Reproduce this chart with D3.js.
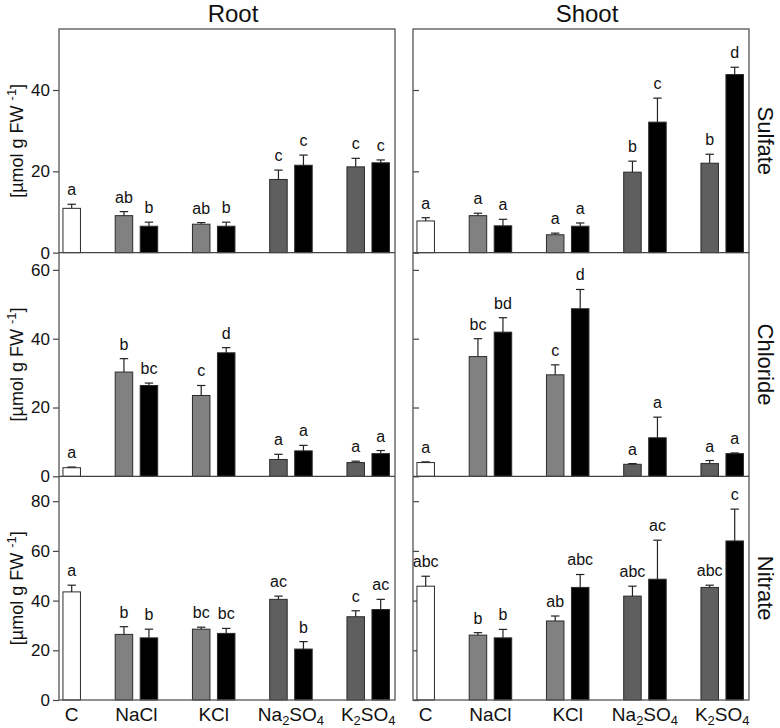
<!DOCTYPE html>
<html><head><meta charset="utf-8">
<script src="https://cdn.jsdelivr.net/npm/d3@7"></script>
<style>body{margin:0;background:#fff} text{font-family:"Liberation Sans",Arial,sans-serif;fill:#111}</style>
</head><body><svg id="c" width="780" height="728"></svg>
<script>
// ---------- data ----------
const categories = ["C", "NaCl", "KCl", "Na2SO4", "K2SO4"];
const tissues = ["Root", "Shoot"];
const ions = ["Sulfate", "Chloride", "Nitrate"];
const sulfateTicks = [0, 20, 40];
const chlorideTicks = [0, 20, 40, 60];
const nitrateTicks = [0, 20, 40, 60, 80];
const yMaxima = [55, 65, 90];
// bar order: C, NaCl low, NaCl high, KCl low, KCl high, Na2SO4 low, Na2SO4 high, K2SO4 low, K2SO4 high
const rootSulfateMean = [10.9, 9.1, 6.5, 7.0, 6.5, 18.0, 21.5, 21.1, 22.1];
const rootSulfateErr = [1.0, 1.0, 1.0, 0.4, 1.0, 2.3, 2.5, 2.1, 0.7];
const rootSulfateLetters = ["a", "ab", "b", "ab", "b", "c", "c", "c", "c"];
const shootSulfateMean = [7.8, 9.1, 6.6, 4.4, 6.5, 19.8, 32.1, 22.0, 43.8];
const shootSulfateErr = [0.8, 0.6, 1.6, 0.4, 0.8, 2.7, 5.9, 2.2, 1.8];
const shootSulfateLetters = ["a", "a", "a", "a", "a", "b", "c", "b", "d"];
const rootChlorideMean = [2.5, 30.3, 26.4, 23.5, 35.9, 4.9, 7.4, 4.0, 6.6];
const rootChlorideErr = [0.2, 3.9, 0.7, 2.9, 1.5, 1.5, 1.6, 0.4, 0.9];
const rootChlorideLetters = ["a", "b", "bc", "c", "d", "a", "a", "a", "a"];
const shootChlorideMean = [4.0, 34.8, 41.9, 29.5, 48.7, 3.5, 11.2, 3.7, 6.6];
const shootChlorideErr = [0.2, 5.2, 4.2, 2.9, 5.6, 0.2, 6.0, 0.9, 0.2];
const shootChlorideLetters = ["a", "bc", "bd", "c", "d", "a", "a", "a", "a"];
const rootNitrateMean = [43.5, 26.4, 25.0, 28.5, 26.8, 40.5, 20.5, 33.5, 36.4];
const rootNitrateErr = [2.7, 3.1, 3.5, 0.8, 2.0, 1.3, 3.0, 2.4, 4.1];
const rootNitrateLetters = ["a", "b", "b", "bc", "bc", "ac", "b", "c", "ac"];
const shootNitrateMean = [45.8, 26.1, 25.0, 31.8, 45.3, 41.8, 48.6, 45.3, 64.0];
const shootNitrateErr = [4.0, 1.0, 3.4, 2.0, 5.2, 4.0, 15.7, 0.9, 12.8];
const shootNitrateLetters = ["abc", "b", "b", "ab", "abc", "abc", "ac", "abc", "c"];

const panels = [
  [rootSulfateMean, rootSulfateErr, rootSulfateLetters, shootSulfateMean, shootSulfateErr, shootSulfateLetters],
  [rootChlorideMean, rootChlorideErr, rootChlorideLetters, shootChlorideMean, shootChlorideErr, shootChlorideLetters],
  [rootNitrateMean, rootNitrateErr, rootNitrateLetters, shootNitrateMean, shootNitrateErr, shootNitrateLetters]
];
const tickSets = [sulfateTicks, chlorideTicks, nitrateTicks];

// bar slots built from categories
const bars = [];
categories.forEach(c => {
  if (c === "C") bars.push({cat: c, sub: "high", fill: "#ffffff"});
  else {
    const light = (c === "NaCl" || c === "KCl") ? "#818181" : "#5f5f5f";
    bars.push({cat: c, sub: "low", fill: light});
    bars.push({cat: c, sub: "high", fill: "#000000"});
  }
});

// ---------- layout ----------
const svg = d3.select("#c");
const colLeft = [59, 413], colW = 336;
const top0 = 29, bottom0 = 700;
const rowH = (bottom0 - top0) / 3;
const font = '"Liberation Sans",Arial,sans-serif';

const xGroup = d3.scalePoint().domain(categories).range([0.2, 309.2]);
const xSub = d3.scaleBand().domain(["low", "high"]).range([-25, 25]).paddingInner(0.3).paddingOuter(0.15);

tissues.forEach((t, ci) => {
  const L = colLeft[ci];
  ions.forEach((ion, ri) => {
    const yTop = top0 + ri * rowH, yBot = yTop + rowH;
    const y = d3.scaleLinear().domain([0, yMaxima[ri]]).range([yBot, yTop]);
    const [mean, err, letters] = panels[ri].slice(ci * 3, ci * 3 + 3);
    const g = svg.append("g").attr("transform", `translate(${L},0)`);

    // axis
    const ax = ci === 0
      ? d3.axisLeft(y).tickValues(tickSets[ri]).tickSize(6).tickPadding(3)
      : d3.axisRight(y).tickValues(tickSets[ri]).tickSize(6).tickFormat(() => "");
    const ag = g.append("g").call(ax);
    ag.select(".domain").remove();
    ag.selectAll("line").attr("stroke", "#444").attr("stroke-width", 1.2);
    ag.selectAll("text").attr("font-size", 17).attr("font-family", font).attr("fill", "#111");

    // bars
    bars.forEach((b, i) => {
      const x0 = xGroup(b.cat) + xSub(b.sub);
      const w = xSub.bandwidth();
      const cx = x0 + w / 2;
      g.append("rect").attr("x", x0).attr("y", y(mean[i])).attr("width", w)
        .attr("height", y(0) - y(mean[i])).attr("fill", b.fill)
        .attr("stroke", "#2b2b2b").attr("stroke-width", 1);
      const ye = y(mean[i] + err[i]);
      g.append("line").attr("x1", cx).attr("x2", cx).attr("y1", y(mean[i])).attr("y2", ye)
        .attr("stroke", "#222").attr("stroke-width", 1.2);
      g.append("line").attr("x1", cx - 4.2).attr("x2", cx + 4.2).attr("y1", ye).attr("y2", ye)
        .attr("stroke", "#222").attr("stroke-width", 1.2);
      g.append("text").attr("x", cx).attr("y", ye - 9).attr("text-anchor", "middle")
        .attr("font-size", 16).text(letters[i]);
    });

    if (ci === 0) {
      const lab = svg.append("text").attr("transform", `translate(23,${(yTop + yBot) / 2}) rotate(-90)`)
        .attr("text-anchor", "middle").attr("font-size", 18);
      lab.append("tspan").text("[µmol g FW  ");
      lab.append("tspan").attr("font-size", 13).attr("dy", -7).text("-1");
      lab.append("tspan").attr("dy", 7).text("]");
    } else {
      svg.append("text").attr("transform", `translate(758,${(yTop + yBot) / 2}) rotate(90)`)
        .attr("text-anchor", "middle").attr("font-size", 22).text(ion);
    }
  });

  // frame
  svg.append("rect").attr("x", L).attr("y", top0).attr("width", colW).attr("height", bottom0 - top0)
    .attr("fill", "none").attr("stroke", "#555").attr("stroke-width", 1.3);
  [1, 2].forEach(k => svg.append("line").attr("x1", L).attr("x2", L + colW)
    .attr("y1", top0 + k * rowH).attr("y2", top0 + k * rowH).attr("stroke", "#444").attr("stroke-width", 1.3));

  // title
  svg.append("text").attr("x", L + colW / 2 + 6).attr("y", 22).attr("text-anchor", "middle")
    .attr("font-size", 24).text(t);

  // x labels
  categories.forEach(c => {
    const tx = svg.append("text").attr("x", L + xGroup(c) + (c === "C" ? xSub("high") + xSub.bandwidth() / 2 : 0))
      .attr("y", 721).attr("text-anchor", "middle").attr("font-size", 19);
    const m = c.match(/^([A-Za-z]+)(\d)(SO)(\d)$/);
    if (m) {
      tx.append("tspan").text(m[1]);
      tx.append("tspan").attr("font-size", 13).attr("dy", 4).text(m[2]);
      tx.append("tspan").attr("dy", -4).text(m[3]);
      tx.append("tspan").attr("font-size", 13).attr("dy", 4).text(m[4]);
    } else tx.text(c);
  });
});
</script></body></html>
